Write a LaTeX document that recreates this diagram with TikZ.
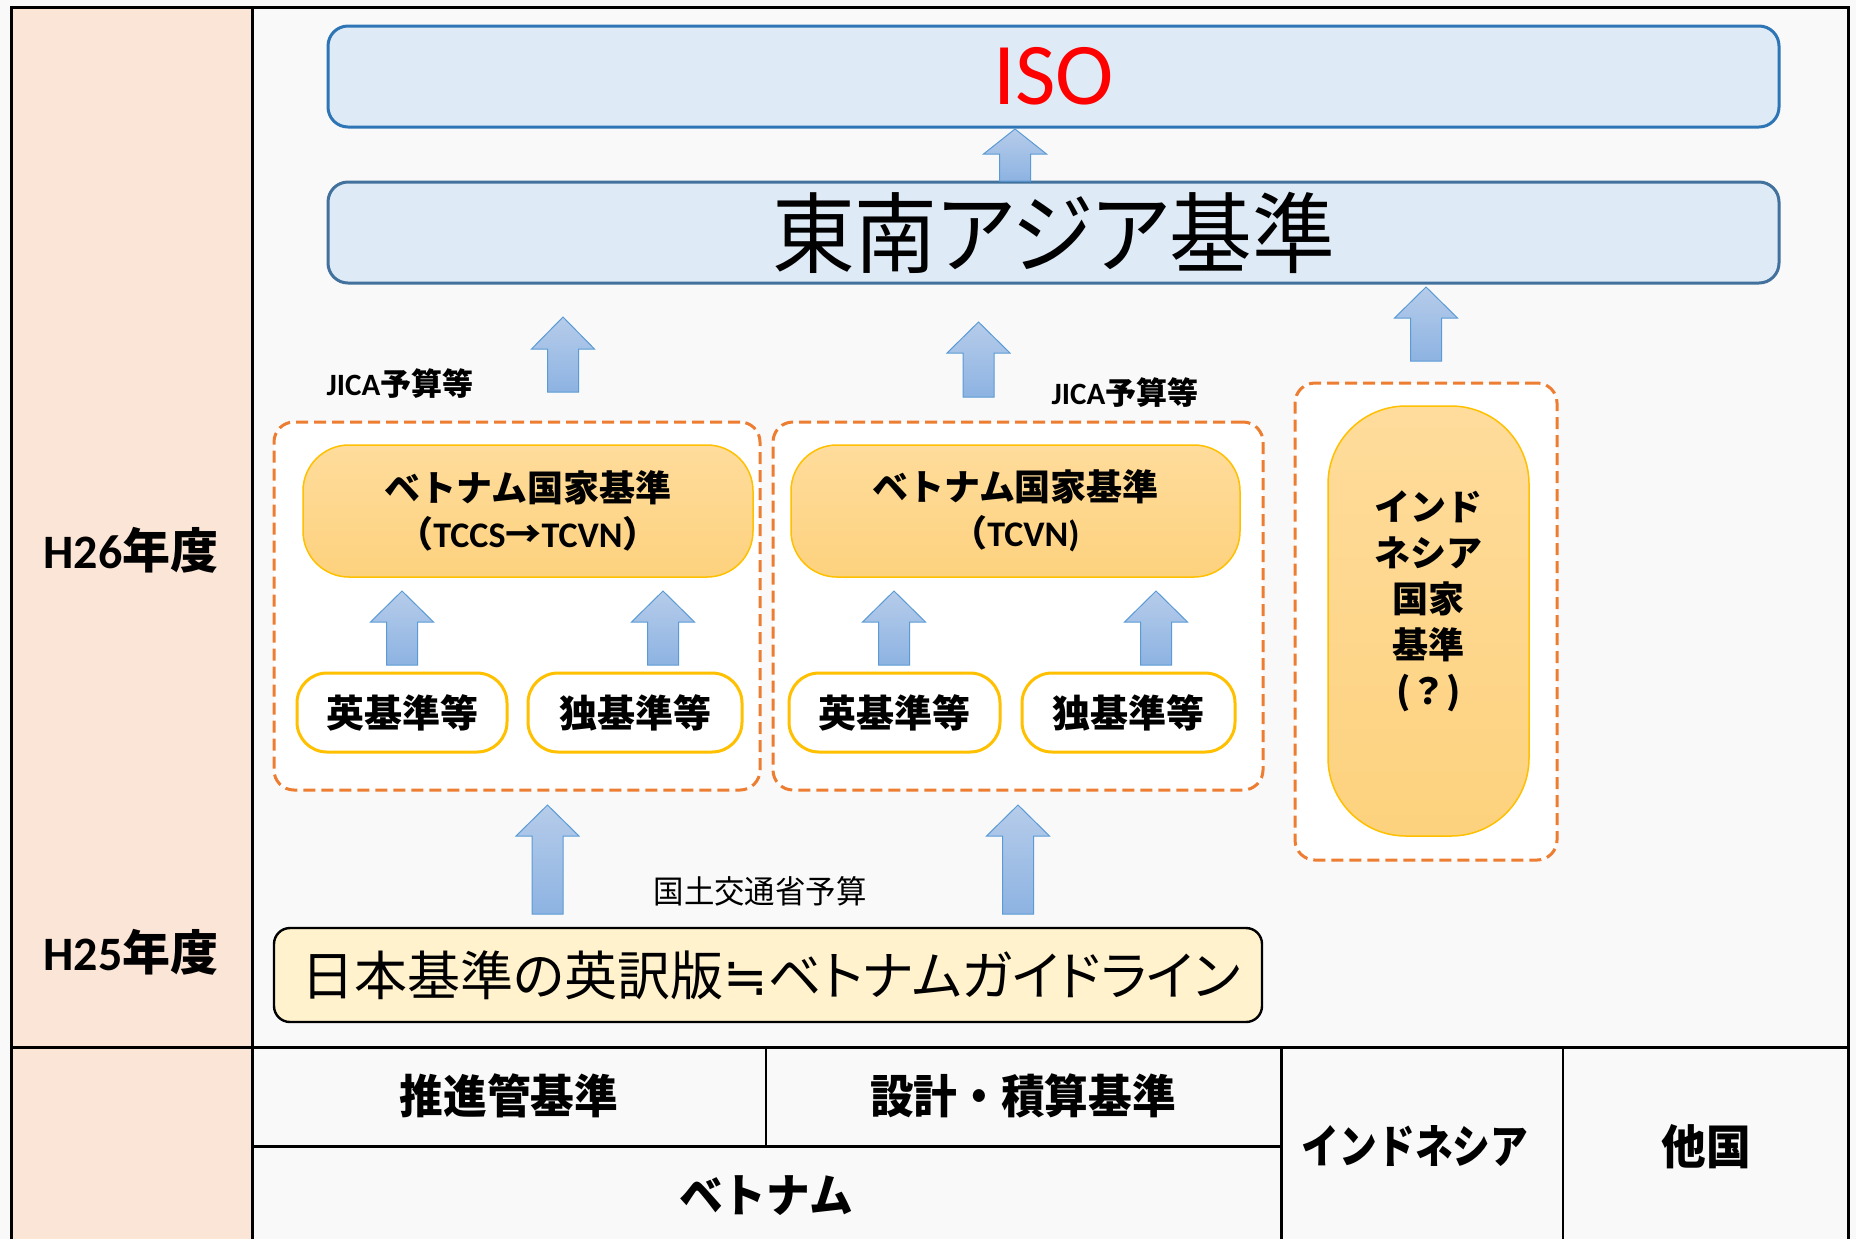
\documentclass[tikz,border=0pt]{standalone}
\usepackage{fontspec}
\usepackage{graphicx}
\setmainfont{Noto Sans CJK JP}
\newfontfamily\carl{Carlito}
\newfontfamily\dejavu{DejaVu Sans}
\newfontfamily\jpp[RawFeature={+palt}]{Noto Sans CJK JP}
\newfontfamily\jpps[RawFeature={+palt}, FakeStretch=0.94]{Noto Sans CJK JP}
\newfontfamily\jpc[FakeStretch=0.95]{Noto Sans CJK JP}
\newfontfamily\jpn[FakeStretch=0.82]{Noto Sans CJK JP}
\newcommand\fs[2]{\fontsize{#1}{#2}\selectfont}
\definecolor{bgc}{HTML}{F9F9F9}
\definecolor{peach}{HTML}{FBE5D6}
\definecolor{bluefill}{HTML}{DEEBF7}
\definecolor{isoborder}{HTML}{2E75B6}
\definecolor{seaborder}{HTML}{41719C}
\definecolor{dorange}{HTML}{ED7D31}
\definecolor{gold}{HTML}{FFC000}
\definecolor{ortop}{HTML}{FFDC9C}
\definecolor{orbot}{HTML}{FDD27E}
\definecolor{cream}{HTML}{FFF2CC}
\definecolor{arrtop}{HTML}{B6CCEA}
\definecolor{arrbot}{HTML}{8DB3E2}
\definecolor{arrline}{HTML}{5B9BD5}
\tikzset{
  bluebox/.style={draw, line width=1.5pt, fill=bluefill, rounded corners=10pt, inner sep=0pt, outer sep=0pt, minimum width=725.5pt, minimum height=50.5pt},
  dashbox/.style={draw=dorange, line width=1.5pt, dash pattern=on 6pt off 3pt, fill=white, rounded corners=10pt, inner sep=0pt, outer sep=0pt},
  orbox/.style={draw=gold, line width=0.75pt, top color=ortop, bottom color=orbot, rounded corners=23pt, inner sep=0pt, outer sep=0pt, align=center, font=\bfseries\fs{18}{23}},
  stdbox/.style={draw=gold, line width=1.5pt, fill=white, rounded corners=15pt, inner sep=0pt, outer sep=0pt, minimum height=39.5pt, font=\bfseries\fs{19}{19}},
  barrowsty/.style={draw=arrline, line width=0.5pt, top color=arrtop, bottom color=arrbot},
  tline/.style={line width=1.5pt, black},
  tlinethin/.style={line width=1pt, black},
}
\newcommand\barrow[4]{%
  \draw[barrowsty] (#1-15.5,#4) -- (#1-15.5,#3) -- (#1-31.5,#3) -- (#1,#2) -- (#1+31.5,#3) -- (#1+15.5,#3) -- (#1+15.5,#4) -- cycle;}
\begin{document}
\begin{tikzpicture}[x=0.5pt, y=-0.5pt]
\useasboundingbox (0,0) rectangle (1856,1239);
% background
\fill[bgc] (0,0) rectangle (1856,1239);
\fill[peach] (11,7) rectangle (252,1239);
% frame and table lines
\draw[tline] (11,1239) -- (11,7) -- (1848,7) -- (1848,1239);
\draw[tline] (252,7) -- (252,1239);
\draw[tline] (11,1047) -- (1848,1047);
\draw[tline] (252,1146) -- (1281,1146);
\draw[tlinethin] (766,1047) -- (766,1146);
\draw[tline] (1281,1047) -- (1281,1239);
\draw[tlinethin] (1563,1047) -- (1563,1239);
% top boxes
\node[bluebox, draw=isoborder, text=red, font=\carl\fs{44}{44}] (iso) at (1053.5,76.5) {ISO};
\node[bluebox, draw=seaborder, font=\jpps\fs{44}{44}] (sea) at (1053.5,232.5) {東南アジア基準};
% dashed groups
\node[dashbox, minimum width=243pt, minimum height=184pt] (grp1) at (517,606) {};
\node[dashbox, minimum width=245pt, minimum height=184pt] (grp2) at (1018,606) {};
\node[dashbox, minimum width=131pt, minimum height=238.5pt] (grp3) at (1426,621.5) {};
% national standards
\node[orbox, minimum width=225pt, minimum height=66pt] (vn1) at (528,511) {ベトナム国家基準\\（{\carl\bfseries TCCS}→{\carl\bfseries TCVN}）};
\node[orbox, minimum width=224.5pt, minimum height=66pt] (vn2) at (1015.5,511) {ベトナム国家基準\\（{\carl\bfseries TCVN)}};
\node[orbox, rounded corners=39pt, minimum width=100.5pt, minimum height=215pt] (indo) at (1428.5,621) {};
\node[align=center, font=\bfseries\fs{18}{23}] (indotxt) at (1428.5,601) {インド\\ネシア\\国家\\基準\\({？})};
% source standards
\node[stdbox, minimum width=105pt] (en1) at (402,712.5) {英基準等};
\node[stdbox, minimum width=107pt] (de1) at (635,712.5) {独基準等};
\node[stdbox, minimum width=105.5pt] (en2) at (894.5,712.5) {英基準等};
\node[stdbox, minimum width=106.5pt] (de2) at (1128.5,712.5) {独基準等};
% guideline
\node[draw, line width=1.2pt, fill=cream, rounded corners=8pt, inner sep=0pt, minimum width=494pt, minimum height=47pt, font=\jpp\fs{26.5}{26.5}] (jp) at (768,975) {\hspace{3pt}日本基準の英訳版{\dejavu ≒}ベトナムガイドライン};
% labels
\node[font=\bfseries\fs{15.5}{15.5}] (jica1) at (400,384) {{\carl\bfseries JICA}予算等};
\node[font=\bfseries\fs{15.5}{15.5}] (jica2) at (1125,393) {{\carl\bfseries JICA}予算等};
\node[font=\jpc\fs{16}{16}] (mlit) at (760,891) {国土交通省予算};
\node[font=\bfseries\fs{24}{24}] (h26) at (131,550) {{\carl\bfseries H26}年度};
\node[font=\bfseries\fs{24}{24}] (h25) at (131,952) {{\carl\bfseries H25}年度};
% table
\node[font=\jpc\bfseries\fs{23}{23}] (t1) at (509,1096) {推進管基準};
\node[font=\jpc\bfseries\fs{23}{23}] (t2) at (1023,1096) {設計・積算基準};
\node[font=\jpc\bfseries\fs{23}{23}] (t3) at (766,1196) {ベトナム};
\node[font=\jpn\bfseries\fs{23}{23}] (t4) at (1415,1146) {インドネシア};
\node[font=\jpc\bfseries\fs{23.5}{23.5}] (t5) at (1706,1147) {他国};
% block arrows
\barrow{1015}{129}{154}{181}
\barrow{563}{317}{349}{392}
\barrow{978.5}{322}{353}{397}
\barrow{1426}{287}{318}{361}
\barrow{402}{591}{622}{665}
\barrow{663}{591}{622}{665}
\barrow{894}{591}{622}{665}
\barrow{1156}{591}{622}{665}
\barrow{547.5}{805}{836}{914}
\barrow{1018}{805}{836}{914}
\end{tikzpicture}
\end{document}
